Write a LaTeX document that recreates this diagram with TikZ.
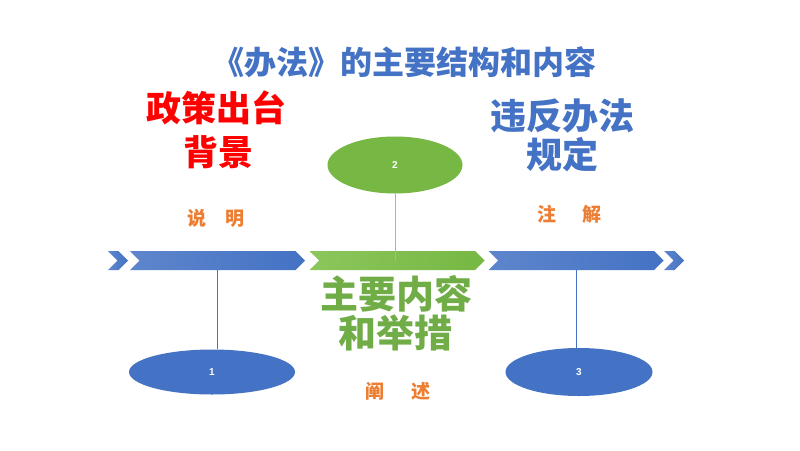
\documentclass[tikz,border=0pt]{standalone}
\usepackage{fontspec}
\setmainfont{Liberation Sans}
\newfontfamily\cjk{Noto Sans CJK SC}
\usetikzlibrary{shapes.symbols,shapes.geometric}
\definecolor{myblue}{HTML}{4472C4}
\definecolor{mygreen}{HTML}{70AD47}
\definecolor{brightgreen}{HTML}{76B843}
\definecolor{lightgreen}{HTML}{8CC65C}
\definecolor{myorange}{HTML}{ED7D31}
\definecolor{myred}{HTML}{FF0000}
\tikzset{
  seg/.style={signal, signal to=east, signal from=west, signal pointer angle=90,
    minimum height=19pt, inner sep=0pt, draw=none},
  blueseg/.style={seg, left color=myblue!86!white, right color=myblue},
  greenseg/.style={seg, left color=lightgreen, right color=brightgreen},
  oval/.style={ellipse, inner sep=0pt, draw=none, text=white, font=\bfseries\fontsize{10}{12}\selectfont},
  link/.style={line width=0.7pt},
  big/.style={font=\cjk\bfseries\fontsize{#1}{#1}\selectfont, align=center, inner sep=0pt},
  small/.style={font=\cjk\bfseries\fontsize{19}{19}\selectfont, text=myorange, inner sep=0pt}
}
\begin{document}
\begin{tikzpicture}[x=1pt,y=-1pt]
\useasboundingbox[fill=white] (0,0) rectangle (800,450);
% ellipses
\node[oval, fill=myblue, minimum width=166pt, minimum height=45pt] (e1) at (212,372) {1};
\node[oval, fill=brightgreen, minimum width=135pt, minimum height=57pt] (e2) at (395,165) {2};
\node[oval, fill=myblue, minimum width=147pt, minimum height=48pt] (e3) at (579,372) {3};
% bar segments (positions)
\coordinate (c1) at (217.5,260.5);
\coordinate (c3) at (576,260.5);
% connectors behind the bar
\draw[link, myblue] (c1) -- (c1 |- e1.north);
\draw[link, myblue] (c3) -- (c3 |- e3.north);
\node[blueseg, minimum width=20pt] (s0) at (118,260.5) {};
\node[blueseg, minimum width=175pt] (a1) at (c1) {};
\node[greenseg, minimum width=175pt] (a2) at (397,260.5) {};
\node[blueseg, minimum width=175pt] (a3) at (c3) {};
\node[blueseg, minimum width=20pt] (s4) at (674,260.5) {};
% connector over the bar
\draw[link, brightgreen!75!white] (e2.south) -- (e2.south |- a2.center);
% texts
\node[big=32, text=myblue] (title) at (404,62) {《办法》的主要结构和内容};
\node[big=35, text=myred] (t1a) at (216,108) {政策出台};
\node[big=35, text=myred] (t1b) at (218,152) {背景};
\node[big=36, text=myblue] (t3a) at (562,116) {违反办法};
\node[big=36, text=myblue] (t3b) at (562,155) {规定};
\node[big=38, text=mygreen] (t2a) at (396,294) {主要内容};
\node[big=38, text=mygreen] (t2b) at (395,333) {和举措};
\node[small] (l1) at (216,218) {说\hspace{19pt}明};
\node[small] (l3) at (569,214) {注\hspace{26pt}解};
\node[small] (l2) at (398,391) {阐\hspace{27pt}述};
\end{tikzpicture}
\end{document}
